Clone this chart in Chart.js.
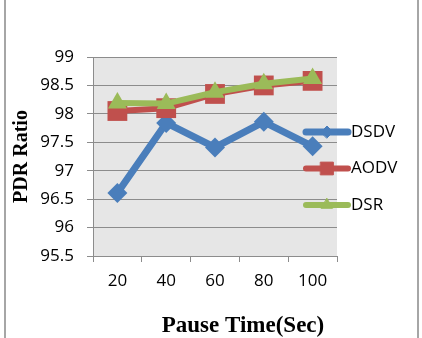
<!DOCTYPE html>
<html>
<head>
<meta charset="utf-8">
<script src="https://cdn.jsdelivr.net/npm/chart.js@4"></script>
<style>
  html, body { margin: 0; padding: 0; background: #fff; }
  #wrap { position: relative; width: 422px; height: 338px; }
</style>
</head>
<body>
<div id="wrap"><canvas id="c"></canvas></div>
<script>
// PDR ratio vs pause time, three routing protocols
const pauseTimes = ['20', '40', '60', '80', '100'];
const dsdv = [96.61, 97.84, 97.41, 97.86, 97.43];
const aodv = [98.05, 98.10, 98.35, 98.50, 98.58];
const dsr = [98.19, 98.18, 98.38, 98.53, 98.62];
const seriesNames = ['DSDV', 'AODV', 'DSR'];

const BLUE = '#4a7ebb', RED = '#c0504d', GREEN = '#9bbb59';
const GRID = '#8c8c8c';
const SANS = '"Open Sans", "Liberation Sans", sans-serif';
const TICK_FONT = { family: SANS, size: 17 };

// grey plot background + outer frame
const backdrop = {
  id: 'backdrop',
  beforeDraw(chart) {
    const { ctx, chartArea: a } = chart;
    ctx.save();
    ctx.fillStyle = '#e6e6e6';
    ctx.fillRect(a.left, a.top, a.right - a.left, a.bottom - a.top);
    ctx.strokeStyle = '#a6a6a6';
    ctx.lineWidth = 2;
    ctx.beginPath();
    ctx.moveTo(5, 0); ctx.lineTo(5, chart.height);
    ctx.moveTo(418, 0); ctx.lineTo(418, chart.height);
    ctx.stroke();
    ctx.restore();
  },
};

// legend sitting over the right edge of the plot + x title
const overlay = {
  id: 'overlay',
  afterDraw(chart) {
    const { ctx } = chart;
    const rows = [132, 168.5, 205];
    const markerR = [6, 9, 6.5];
    ctx.save();
    chart.data.datasets.forEach((ds, i) => {
      const y = rows[i];
      ctx.strokeStyle = ds.borderColor;
      ctx.lineWidth = ds.borderWidth;
      ctx.lineCap = 'round';
      ctx.beginPath();
      ctx.moveTo(306, y); ctx.lineTo(348, y);
      ctx.stroke();
      ctx.fillStyle = ds.borderColor;
      ctx.lineWidth = 1;
      Chart.helpers.drawPoint(ctx, { pointStyle: ds.pointStyle, radius: markerR[i], borderWidth: 1 }, 327, y);
      ctx.fillStyle = '#000';
      ctx.font = '17px ' + SANS;
      ctx.textBaseline = 'middle';
      ctx.textAlign = 'left';
      ctx.fillText(ds.label, 351, y);
    });
    ctx.font = 'bold 23px "Liberation Serif", "Times New Roman", serif';
    ctx.textAlign = 'center';
    ctx.textBaseline = 'middle';
    ctx.fillText('Pause Time(Sec)', 243, 326);
    ctx.restore();
  },
};

new Chart(document.getElementById('c'), {
  type: 'line',
  data: {
    labels: pauseTimes,
    datasets: [
      { label: seriesNames[0], data: dsdv, borderColor: BLUE, backgroundColor: BLUE, order: 2,
        borderWidth: 7, pointStyle: 'rectRot', pointRadius: 10, pointBorderWidth: 0 },
      { label: seriesNames[1], data: aodv, borderColor: RED, backgroundColor: RED, order: 1,
        borderWidth: 6, pointStyle: 'rect', pointRadius: 14, pointBorderWidth: 0 },
      { label: seriesNames[2], data: dsr, borderColor: GREEN, backgroundColor: GREEN, order: 0,
        borderWidth: 6, pointStyle: 'triangle', pointRadius: 11, pointBorderWidth: 0 },
    ],
  },
  options: {
    responsive: true, maintainAspectRatio: false, animation: false,
    layout: { padding: { top: 57, right: 85, left: 0, bottom: 0 } },
    elements: { line: { tension: 0, borderJoinStyle: 'round', borderCapStyle: 'round' } },
    plugins: { legend: { display: false }, tooltip: { enabled: false } },
    scales: {
      x: {
        offset: true,
        afterFit: s => { s.height = 82; },
        grid: { offset: true, drawOnChartArea: false, drawTicks: true, tickLength: 6, color: GRID },
        border: { color: GRID },
        ticks: { color: '#000', font: TICK_FONT, padding: 9, maxRotation: 0 },
      },
      y: {
        min: 95.5, max: 99,
        afterFit: s => { s.width = 93; },
        grid: { color: GRID, tickLength: 6 },
        border: { color: GRID },
        ticks: { stepSize: 0.5, color: '#000', font: TICK_FONT, padding: 13,
          callback: v => String(+v.toFixed(1)) },
        title: {
          display: true, text: 'PDR Ratio', color: '#000',
          font: { family: '"Liberation Serif", "Times New Roman", serif', size: 20, weight: 'bold' },
          padding: { top: 10, bottom: 0 },
        },
      },
    },
  },
  plugins: [backdrop, overlay],
});
</script>
</body>
</html>
